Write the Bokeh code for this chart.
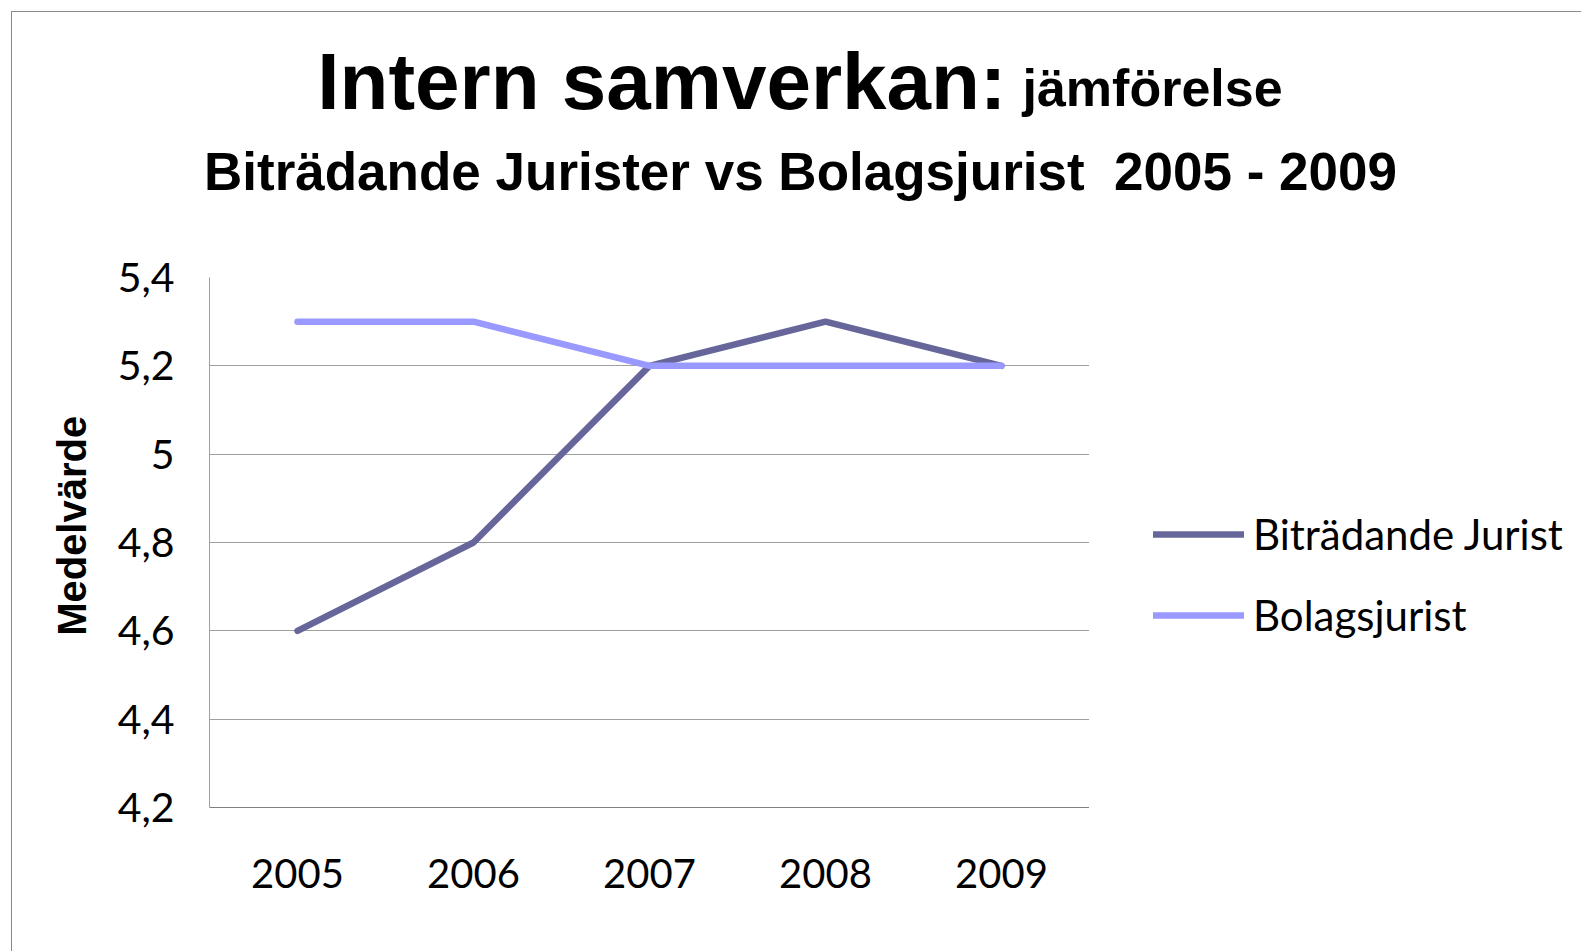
from bokeh.plotting import figure
from bokeh.layouts import column, row
from bokeh.models import (FactorRange, Range1d, FixedTicker, Legend, LegendItem)
from bokeh.core.properties import value
from bokeh.embed import file_html
from bokeh.resources import INLINE

# ---- data ----
years = ["2005", "2006", "2007", "2008", "2009"]
bitradande = [4.6, 4.8, 5.2, 5.3, 5.2]
bolagsjurist = [5.3, 5.3, 5.2, 5.2, 5.2]
y_ticks = [4.2, 4.4, 4.6, 4.8, 5.0, 5.2, 5.4]
y_tick_labels = ["4,2", "4,4", "4,6", "4,8", "5", "5,2", "5,4"]
series_names = ["Biträdande Jurist", "Bolagsjurist"]
title_main = "Intern samverkan:"
title_small = "jämförelse"
subtitle = "Biträdande Jurister vs Bolagsjurist\u00a0 2005 - 2009"
y_label = "\u00a0\u00a0\u00a0Medelvärde"

c_dark = "#66669A"
c_light = "#9999FF"

OFF = 12                       # outer border inset
TW = 1581 - OFF                # total inner width
TH = 237                       # title strip height
MH = 951 - OFF - TH            # chart strip height
MW = 1089 - OFF                # main figure width (frame right at page x 1089)
LW = TW - MW                   # legend strip width

# ---- title strip ----
tf = figure(width=TW, height=TH, x_range=Range1d(0, TW), y_range=Range1d(TH, 0),
            output_backend="svg", toolbar_location=None,
            x_axis_location=None, y_axis_location=None,
            min_border=0, min_border_left=0, min_border_right=0,
            min_border_top=0, min_border_bottom=0)
tf.outline_line_color = None
tf.grid.visible = False
tf.text(x=[994], y=[69], text=[title_main], text_align="right",
        text_baseline="alphabetic", text_font=value("Liberation Sans"),
        text_font_style="bold", text_font_size=value("80px"), text_color="black")
tf.text(x=[1010], y=[75], text=[title_small], text_align="left",
        text_baseline="alphabetic", text_font=value("Liberation Sans"),
        text_font_style="bold", text_font_size=value("52px"), text_color="black")
tf.text(x=[788], y=[159], text=[subtitle], text_align="center",
        text_baseline="alphabetic", text_font=value("Liberation Sans"),
        text_font_style="bold", text_font_size=value("53px"), text_color="black")

# ---- main chart ----
FT = 277 - OFF - TH
FB = 807 - OFF - TH
p = figure(width=MW, height=MH, x_range=FactorRange(*years, range_padding=0),
           y_range=Range1d(4.2, 5.4), output_backend="svg", toolbar_location=None,
           min_border_left=209 - OFF, min_border_right=0, min_border_top=FT,
           min_border_bottom=MH - FB)
p.outline_line_color = None

r1 = p.line(years, bitradande, line_color=c_dark, line_width=6.5,
            line_cap="round", line_join="round")
r2 = p.line(years, bolagsjurist, line_color=c_light, line_width=6.5,
            line_cap="round", line_join="round")

p.yaxis.ticker = FixedTicker(ticks=y_ticks)
p.yaxis.major_label_overrides = {t: l for t, l in zip(y_ticks, y_tick_labels)}
p.yaxis.major_tick_line_color = None
p.yaxis.minor_tick_line_color = None
p.yaxis.axis_line_color = "#A0A0A0"
p.yaxis.major_label_text_font = "Lato"
p.yaxis.major_label_text_font_size = "41px"
p.yaxis.major_label_text_color = "black"
p.yaxis.major_label_standoff = 29
p.yaxis.axis_label = y_label
p.yaxis.axis_label_text_font = "Liberation Sans"
p.yaxis.axis_label_text_font_style = "bold"
p.yaxis.axis_label_text_font_size = "40px"
p.yaxis.axis_label_text_color = "black"
p.yaxis.axis_label_standoff = 21

p.xaxis.major_tick_line_color = None
p.xaxis.minor_tick_line_color = None
p.xaxis.axis_line_color = "#808080"
p.xaxis.major_label_text_font = "Lato"
p.xaxis.major_label_text_font_size = "40px"
p.xaxis.major_label_text_color = "black"
p.xaxis.major_label_standoff = 45

p.xgrid.grid_line_color = None
p.ygrid.grid_line_color = "#A0A0A0"
p.ygrid.grid_line_width = 1

# ---- legend strip (series repeated off-view so the legend has real glyphs) ----
lf = figure(width=LW, height=MH, x_range=FactorRange(*years), y_range=Range1d(0, 1),
            output_backend="svg", toolbar_location=None,
            x_axis_location=None, y_axis_location=None,
            min_border=0, min_border_left=0, min_border_right=0,
            min_border_top=0, min_border_bottom=0)
lf.outline_line_color = None
lf.grid.visible = False
l1 = lf.line(years, bitradande, line_color=c_dark, line_width=6.5, line_cap="round")
l2 = lf.line(years, bolagsjurist, line_color=c_light, line_width=6.5, line_cap="round")
legend = Legend(items=[LegendItem(label=series_names[0], renderers=[l1]),
                       LegendItem(label=series_names[1], renderers=[l2])],
                location=(1153 - 1089, 167), orientation="vertical",
                glyph_width=91, glyph_height=40, label_height=40, spacing=31,
                label_standoff=9, padding=0, margin=0,
                border_line_alpha=0, background_fill_alpha=0,
                label_text_font="Lato", label_text_font_size="42px",
                label_text_color="black")
lf.add_layout(legend, "center")

layout = column(tf, row(p, lf, spacing=0), spacing=0)
layout.styles = {"margin-top": f"{OFF-1}px", "margin-left": f"{OFF-1}px",
                 "border-top": "1px solid #8a8a8a", "border-left": "1px solid #8a8a8a"}

open("out.html", "w").write(file_html(layout, INLINE))
